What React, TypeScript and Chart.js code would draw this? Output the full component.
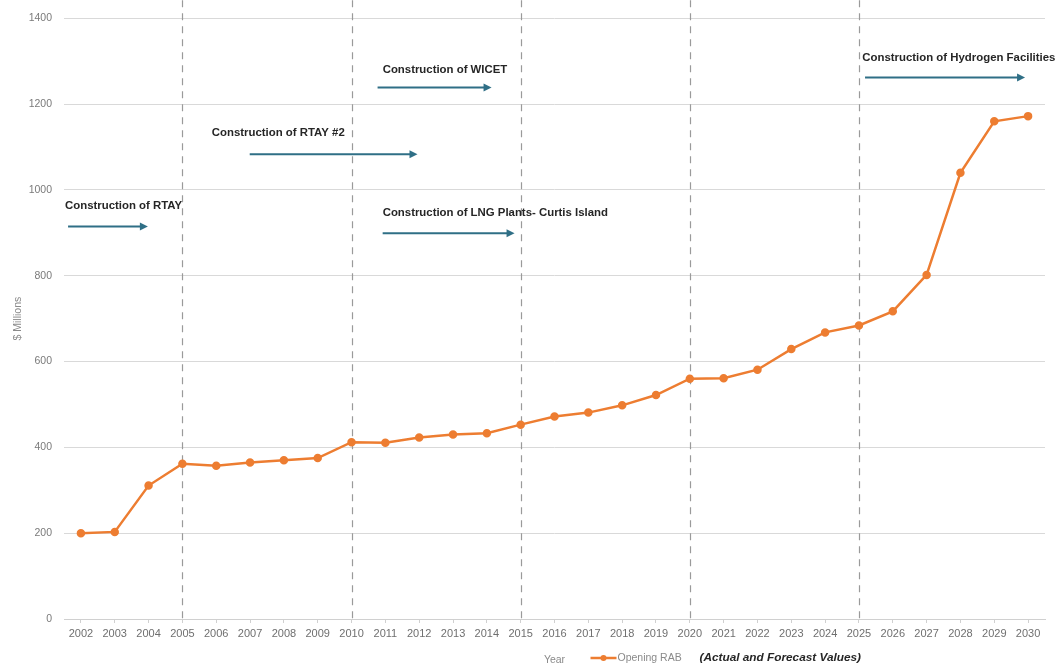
import React, { useEffect, useRef } from "react";
import { Chart, registerables } from "chart.js";

Chart.register(...registerables);

const years = [
  "2002", "2003", "2004", "2005", "2006", "2007", "2008", "2009", "2010", "2011",
  "2012", "2013", "2014", "2015", "2016", "2017", "2018", "2019", "2020", "2021",
  "2022", "2023", "2024", "2025", "2026", "2027", "2028", "2029", "2030",
];
const openingRAB = [
  200, 203, 311, 362, 357, 365, 370, 375, 412, 411,
  423, 430, 433, 453, 472, 481, 498, 522, 560, 561,
  581, 629, 668, 684, 717, 802, 1040, 1160, 1172,
];
const yTicks = [0, 200, 400, 600, 800, 1000, 1200, 1400];
const phaseYears = ["2005", "2010", "2015", "2020", "2025"];

// Annotation labels: x as fractional category index, y as value
const noteTexts = [
  "Construction of RTAY",
  "Construction of RTAY #2",
  "Construction of WICET",
  "Construction of LNG Plants- Curtis Island",
  "Construction of Hydrogen Facilities",
];
const noteTextX = [-0.47, 3.87, 8.92, 8.92, 23.1];
const noteTextY = [964, 1132, 1281, 946, 1307];
const arrowFromX = [-0.38, 4.99, 8.77, 8.92, 23.18];
const arrowToX = [1.98, 9.95, 12.14, 12.82, 27.91];
const arrowY = [915, 1083, 1239, 899, 1262];

const ORANGE = "#ED7D31";
const TEAL = "#2F6F86";
const FONT = "'Liberation Sans', Arial, sans-serif";

const overlayPlugin = {
  id: "overlay",
  beforeDatasetsDraw(chart: any) {
    const { ctx, chartArea, scales } = chart;
    const x = scales.x;
    ctx.save();
    ctx.strokeStyle = "#9a9a9a";
    ctx.lineWidth = 1.2;
    ctx.setLineDash([7, 6]);
    phaseYears.forEach((yr) => {
      const px = Math.round(x.getPixelForValue(years.indexOf(yr))) + 0.5;
      ctx.beginPath();
      ctx.moveTo(px, chartArea.top - 18);
      ctx.lineTo(px, chartArea.bottom);
      ctx.stroke();
    });
    ctx.restore();
  },
  afterDraw(chart: any) {
    const { ctx, chartArea, scales } = chart;
    const x = scales.x;
    const y = scales.y;
    ctx.save();
    // annotations
    ctx.font = `bold 11.4px ${FONT}`;
    ctx.fillStyle = "#262626";
    ctx.textBaseline = "middle";
    ctx.textAlign = "left";
    noteTexts.forEach((t, i) => {
      ctx.fillText(t, x.getPixelForValue(noteTextX[i]), y.getPixelForValue(noteTextY[i]));
    });
    ctx.strokeStyle = TEAL;
    ctx.fillStyle = TEAL;
    ctx.lineWidth = 2;
    arrowFromX.forEach((fx, i) => {
      const x1 = x.getPixelForValue(fx);
      const x2 = x.getPixelForValue(arrowToX[i]);
      const py = y.getPixelForValue(arrowY[i]);
      ctx.beginPath();
      ctx.moveTo(x1, py);
      ctx.lineTo(x2 - 6, py);
      ctx.stroke();
      ctx.beginPath();
      ctx.moveTo(x2, py);
      ctx.lineTo(x2 - 8, py - 4);
      ctx.lineTo(x2 - 8, py + 4);
      ctx.closePath();
      ctx.fill();
    });
    // legend row
    const cx = (chartArea.left + chartArea.right) / 2;
    const ly = chart.height - 8;
    const lx = cx + 36;
    ctx.strokeStyle = ORANGE;
    ctx.lineWidth = 2.5;
    ctx.beginPath();
    ctx.moveTo(lx, ly);
    ctx.lineTo(lx + 26, ly);
    ctx.stroke();
    ctx.fillStyle = ORANGE;
    ctx.beginPath();
    ctx.arc(lx + 13, ly, 3, 0, Math.PI * 2);
    ctx.fill();
    ctx.font = `10.5px ${FONT}`;
    ctx.fillStyle = "#8a8a8a";
    ctx.textBaseline = "middle";
    ctx.fillText("Opening RAB", lx + 27, ly);
    ctx.font = `italic bold 11.8px ${FONT}`;
    ctx.fillStyle = "#262626";
    ctx.fillText("(Actual and Forecast Values)", lx + 109, ly);
    ctx.restore();
  },
};

export default function App() {
  const ref = useRef<HTMLCanvasElement>(null);
  useEffect(() => {
    if (!ref.current) return;
    const chart = new Chart(ref.current, {
      type: "line",
      data: {
        labels: years,
        datasets: [
          {
            label: "Opening RAB",
            data: openingRAB,
            borderColor: ORANGE,
            backgroundColor: ORANGE,
            borderWidth: 2.5,
            pointRadius: 3,
            pointBackgroundColor: ORANGE,
            pointBorderColor: ORANGE,
            tension: 0,
          },
        ],
      },
      options: {
        animation: false,
        responsive: true,
        maintainAspectRatio: false,
        layout: { padding: { top: 18, right: 17, left: 12, bottom: 0 } },
        plugins: {
          legend: { display: false },
          tooltip: { enabled: false },
        },
        scales: {
          x: {
            offset: true,
            grid: {
              drawOnChartArea: false,
              drawTicks: true,
              tickLength: 4,
              color: "#d0d0d0",
            },
            border: { display: true, color: "#d0d0d0" },
            ticks: {
              color: "#6f6f6f",
              font: { family: FONT, size: 11 },
              maxRotation: 0,
              autoSkip: false,
              padding: 4,
            },
            title: {
              display: true,
              text: "Year",
              color: "#8a8a8a",
              font: { family: FONT, size: 10.5 },
              padding: { top: 2, bottom: 0 },
            },
            afterFit(scale: any) {
              scale.height = 47;
            },
          },
          y: {
            min: 0,
            max: 1400,
            afterBuildTicks(scale: any) {
              scale.ticks = yTicks.map((v) => ({ value: v }));
            },
            grid: { color: "#d9d9d9", drawTicks: false, lineWidth: 1 },
            border: { display: false },
            ticks: {
              color: "#7a7a7a",
              font: { family: FONT, size: 10.5 },
              padding: 12,
              callback: (v: any) => String(v),
            },
            title: {
              display: true,
              text: "$ Millions",
              color: "#8a8a8a",
              font: { family: FONT, size: 10.5 },
              padding: { top: 0, bottom: 4 },
            },
            afterFit(scale: any) {
              scale.width = 52;
            },
          },
        },
      },
      plugins: [overlayPlugin],
    });
    return () => chart.destroy();
  }, []);
  return (
    <div style={{ position: "absolute", left: 0, top: 0, width: 1062, height: 666, background: "#fff" }}>
      <canvas ref={ref} />
    </div>
  );
}
